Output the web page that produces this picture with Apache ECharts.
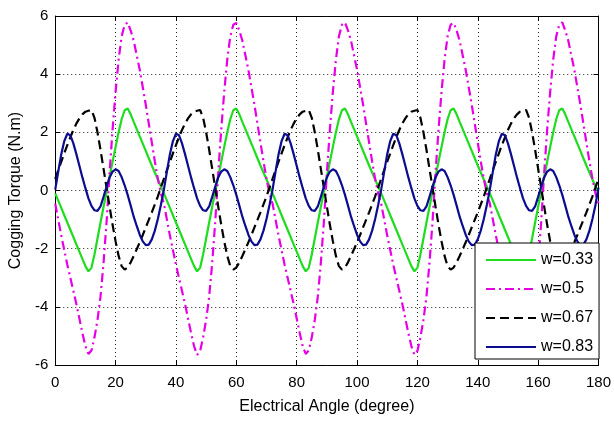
<!DOCTYPE html>
<html>
<head>
<meta charset="utf-8">
<script src="https://cdn.jsdelivr.net/npm/echarts@6/dist/echarts.min.js"></script>
<style>html,body{margin:0;padding:0;background:#fff;}#c{width:614px;height:421px;}</style>
</head>
<body>
<div id="c"></div>
<script>
const angles = [
0,1,2,3,4,5,6,7,8,9,10,11,12,13,14,15,16,17,18,19,20,21,22,23,24,25,26,27,28,29,30,31,32,33,34,35,
36,37,38,39,40,41,42,43,44,45,46,47,48,49,50,51,52,53,54,55,56,57,58,59,60,61,62,63,64,65,66,67,68,69,70,71,
72,73,74,75,76,77,78,79,80,81,82,83,84,85,86,87,88,89,90,91,92,93,94,95,96,97,98,99,100,101,102,103,104,105,106,107,
108,109,110,111,112,113,114,115,116,117,118,119,120,121,122,123,124,125,126,127,128,129,130,131,132,133,134,135,136,137,138,139,140,141,142,143,
144,145,146,147,148,149,150,151,152,153,154,155,156,157,158,159,160,161,162,163,164,165,166,167,168,169,170,171,172,173,174,175,176,177,178,179,
180];

const w033 = [
-0.10,-0.35,-0.60,-0.85,-1.10,-1.35,-1.60,-1.85,-2.10,-2.35,-2.60,-2.78,-2.66,-2.20,-1.65,-1.10,-0.57,-0.05,0.47,0.99,1.50,2.00,2.45,2.76,2.82,2.62,2.36,2.11,1.86,1.61,1.36,1.11,0.86,0.62,0.38,0.14,
-0.10,-0.35,-0.60,-0.85,-1.10,-1.35,-1.60,-1.85,-2.10,-2.35,-2.60,-2.78,-2.66,-2.20,-1.65,-1.10,-0.57,-0.05,0.47,0.99,1.50,2.00,2.45,2.76,2.82,2.62,2.36,2.11,1.86,1.61,1.36,1.11,0.86,0.62,0.38,0.14,
-0.10,-0.35,-0.60,-0.85,-1.10,-1.35,-1.60,-1.85,-2.10,-2.35,-2.60,-2.78,-2.66,-2.20,-1.65,-1.10,-0.57,-0.05,0.47,0.99,1.50,2.00,2.45,2.76,2.82,2.62,2.36,2.11,1.86,1.61,1.36,1.11,0.86,0.62,0.38,0.14,
-0.10,-0.35,-0.60,-0.85,-1.10,-1.35,-1.60,-1.85,-2.10,-2.35,-2.60,-2.78,-2.66,-2.20,-1.65,-1.10,-0.57,-0.05,0.47,0.99,1.50,2.00,2.45,2.76,2.82,2.62,2.36,2.11,1.86,1.61,1.36,1.11,0.86,0.62,0.38,0.14,
-0.10,-0.35,-0.60,-0.85,-1.10,-1.35,-1.60,-1.85,-2.10,-2.35,-2.60,-2.78,-2.66,-2.20,-1.65,-1.10,-0.57,-0.05,0.47,0.99,1.50,2.00,2.45,2.76,2.82,2.62,2.36,2.11,1.86,1.61,1.36,1.11,0.86,0.62,0.38,0.14,
-0.05];

const w05 = [
-0.45,-1.00,-1.55,-2.05,-2.55,-3.00,-3.45,-3.90,-4.40,-4.90,-5.35,-5.62,-5.50,-5.05,-4.45,-3.65,-2.50,-1.10,0.60,2.10,3.40,4.50,5.30,5.70,5.78,5.50,5.15,4.65,4.15,3.55,2.95,2.30,1.65,1.00,0.40,-0.10,
-0.45,-1.00,-1.55,-2.05,-2.55,-3.00,-3.45,-3.90,-4.40,-4.90,-5.35,-5.65,-5.52,-5.05,-4.45,-3.65,-2.50,-1.10,0.60,2.10,3.40,4.50,5.30,5.70,5.76,5.50,5.15,4.65,4.15,3.55,2.95,2.30,1.65,1.00,0.40,-0.10,
-0.45,-1.00,-1.55,-2.05,-2.55,-3.00,-3.45,-3.90,-4.40,-4.90,-5.35,-5.62,-5.50,-5.05,-4.45,-3.65,-2.50,-1.10,0.60,2.10,3.40,4.50,5.30,5.70,5.78,5.50,5.15,4.65,4.15,3.55,2.95,2.30,1.65,1.00,0.40,-0.10,
-0.45,-1.00,-1.55,-2.05,-2.55,-3.00,-3.45,-3.90,-4.40,-4.90,-5.35,-5.65,-5.52,-5.05,-4.45,-3.65,-2.50,-1.10,0.60,2.10,3.40,4.50,5.30,5.70,5.76,5.50,5.15,4.65,4.15,3.55,2.95,2.30,1.65,1.00,0.40,-0.10,
-0.45,-1.00,-1.55,-2.05,-2.55,-3.00,-3.45,-3.90,-4.40,-4.90,-5.35,-5.62,-5.50,-5.05,-4.45,-3.65,-2.50,-1.10,0.60,2.10,3.40,4.50,5.30,5.70,5.78,5.50,5.15,4.65,4.15,3.55,2.95,2.30,1.65,1.00,0.40,-0.10,
-0.45];

const w067 = [
0.40,0.70,0.99,1.28,1.56,1.83,2.08,2.30,2.48,2.62,2.71,2.74,2.77,2.50,2.00,1.40,0.75,0.10,-0.55,-1.18,-1.75,-2.25,-2.60,-2.72,-2.65,-2.47,-2.25,-2.02,-1.78,-1.53,-1.27,-1.01,-0.75,-0.48,-0.20,0.10,
0.40,0.70,0.99,1.28,1.56,1.83,2.08,2.30,2.48,2.62,2.71,2.74,2.77,2.50,2.00,1.40,0.75,0.10,-0.55,-1.18,-1.75,-2.25,-2.60,-2.72,-2.65,-2.47,-2.25,-2.02,-1.78,-1.53,-1.27,-1.01,-0.75,-0.48,-0.20,0.10,
0.40,0.70,0.99,1.28,1.56,1.83,2.08,2.30,2.48,2.62,2.71,2.74,2.77,2.50,2.00,1.40,0.75,0.10,-0.55,-1.18,-1.75,-2.25,-2.60,-2.72,-2.65,-2.47,-2.25,-2.02,-1.78,-1.53,-1.27,-1.01,-0.75,-0.48,-0.20,0.10,
0.40,0.70,0.99,1.28,1.56,1.83,2.08,2.30,2.48,2.62,2.71,2.74,2.77,2.50,2.00,1.40,0.75,0.10,-0.55,-1.18,-1.75,-2.25,-2.60,-2.72,-2.65,-2.47,-2.25,-2.02,-1.78,-1.53,-1.27,-1.01,-0.75,-0.48,-0.20,0.10,
0.40,0.70,0.99,1.28,1.56,1.83,2.08,2.30,2.48,2.62,2.71,2.74,2.77,2.50,2.00,1.40,0.75,0.10,-0.55,-1.18,-1.75,-2.25,-2.60,-2.72,-2.65,-2.47,-2.25,-2.02,-1.78,-1.53,-1.27,-1.01,-0.75,-0.48,-0.20,0.10,
0.40];

const w083 = [
0.03,0.65,1.25,1.70,1.95,1.90,1.62,1.25,0.85,0.45,0.08,-0.27,-0.53,-0.68,-0.70,-0.55,-0.22,0.13,0.45,0.65,0.73,0.67,0.46,0.18,-0.15,-0.52,-0.90,-1.22,-1.52,-1.75,-1.88,-1.86,-1.68,-1.38,-0.98,-0.50,
0.03,0.65,1.25,1.70,1.95,1.90,1.62,1.25,0.85,0.45,0.08,-0.27,-0.53,-0.68,-0.70,-0.55,-0.22,0.13,0.45,0.65,0.73,0.67,0.46,0.18,-0.15,-0.52,-0.90,-1.22,-1.52,-1.75,-1.88,-1.86,-1.68,-1.38,-0.98,-0.50,
0.03,0.65,1.25,1.70,1.95,1.90,1.62,1.25,0.85,0.45,0.08,-0.27,-0.53,-0.68,-0.70,-0.55,-0.22,0.13,0.45,0.65,0.73,0.67,0.46,0.18,-0.15,-0.52,-0.90,-1.22,-1.52,-1.75,-1.88,-1.86,-1.68,-1.38,-0.98,-0.50,
0.03,0.65,1.25,1.70,1.95,1.90,1.62,1.25,0.85,0.45,0.08,-0.27,-0.53,-0.68,-0.70,-0.55,-0.22,0.13,0.45,0.65,0.73,0.67,0.46,0.18,-0.15,-0.52,-0.90,-1.22,-1.52,-1.75,-1.88,-1.86,-1.68,-1.38,-0.98,-0.50,
0.03,0.65,1.25,1.70,1.95,1.90,1.62,1.25,0.85,0.45,0.08,-0.27,-0.53,-0.68,-0.70,-0.55,-0.22,0.13,0.45,0.65,0.73,0.67,0.46,0.18,-0.15,-0.52,-0.90,-1.22,-1.52,-1.75,-1.88,-1.86,-1.68,-1.38,-0.98,-0.50,
0.10];

const seriesNames = ['w=0.33', 'w=0.5', 'w=0.67', 'w=0.83'];
const xTicks = [0, 20, 40, 60, 80, 100, 120, 140, 160, 180];
const yTicks = [-6, -4, -2, 0, 2, 4, 6];
const xTitle = 'Electrical Angle (degree)';
const yTitle = 'Cogging Torque (N.m)';

const FONT = '"Liberation Sans", Arial, sans-serif';
function pairs(ys) { return angles.map((a, i) => [a, ys[i]]); }

const chart = echarts.init(document.getElementById('c'), null, {renderer: 'canvas'});
const dotted = {show: true, lineStyle: {color: '#222', type: [1, 3], width: 1}};
const tick = {show: true, inside: true, length: 5, lineStyle: {color: '#000'}};
const line = {show: true, onZero: false, lineStyle: {color: '#000', width: 1}};

chart.setOption({
  animation: false,
  backgroundColor: '#fff',
  grid: {left: 55, right: 12, top: 16, bottom: 56, containLabel: false},
  xAxis: [
    {type: 'value', min: xTicks[0], max: xTicks[xTicks.length - 1], interval: 20, position: 'bottom',
     axisLine: line, axisTick: tick, splitLine: dotted,
     axisLabel: {fontSize: 15, color: '#000', fontFamily: FONT, margin: 10},
     name: xTitle, nameLocation: 'middle', nameGap: 34,
     nameTextStyle: {fontSize: 16, color: '#000', fontFamily: FONT}},
    {type: 'value', min: xTicks[0], max: xTicks[xTicks.length - 1], interval: 20, position: 'top',
     axisLine: line, axisTick: tick, splitLine: {show: false}, axisLabel: {show: false}}
  ],
  yAxis: [
    {type: 'value', min: yTicks[0], max: yTicks[yTicks.length - 1], interval: 2, position: 'left',
     axisLine: line, axisTick: tick, splitLine: dotted,
     axisLabel: {fontSize: 15, color: '#000', fontFamily: FONT, margin: 7},
     name: yTitle, nameLocation: 'middle', nameGap: 27, nameRotate: 90,
     nameTextStyle: {fontSize: 16, color: '#000', fontFamily: FONT}},
    {type: 'value', min: yTicks[0], max: yTicks[yTicks.length - 1], interval: 2, position: 'right',
     axisLine: line, axisTick: tick, splitLine: {show: false}, axisLabel: {show: false}}
  ],
  legend: {
    orient: 'vertical', left: 475, top: 243,
    backgroundColor: '#fff', borderColor: '#000', borderWidth: 1,
    padding: [9, 6, 4, 10], itemWidth: 50, itemHeight: 14, itemGap: 13,
    itemStyle: {opacity: 0},
    textStyle: {fontSize: 16, color: '#000', fontFamily: FONT, padding: [0, 0, 0, 0]},
    data: seriesNames
  },
  series: [
    {name: seriesNames[0], type: 'line', data: pairs(w033), showSymbol: false, symbol: 'none',
     lineStyle: {color: '#1fdc1f', width: 2.2}, itemStyle: {color: '#1fdc1f'}},
    {name: seriesNames[1], type: 'line', data: pairs(w05), showSymbol: false, symbol: 'none',
     lineStyle: {color: '#e600e6', width: 2.2, type: [9, 4, 2, 4]}, itemStyle: {color: '#e600e6'}},
    {name: seriesNames[2], type: 'line', data: pairs(w067), showSymbol: false, symbol: 'none',
     lineStyle: {color: '#000', width: 2.2, type: [9, 5]}, itemStyle: {color: '#000'}},
    {name: seriesNames[3], type: 'line', data: pairs(w083), showSymbol: false, symbol: 'none',
     lineStyle: {color: '#0c0c90', width: 2.2}, itemStyle: {color: '#0c0c90'}}
  ]
});
</script>
</body>
</html>
